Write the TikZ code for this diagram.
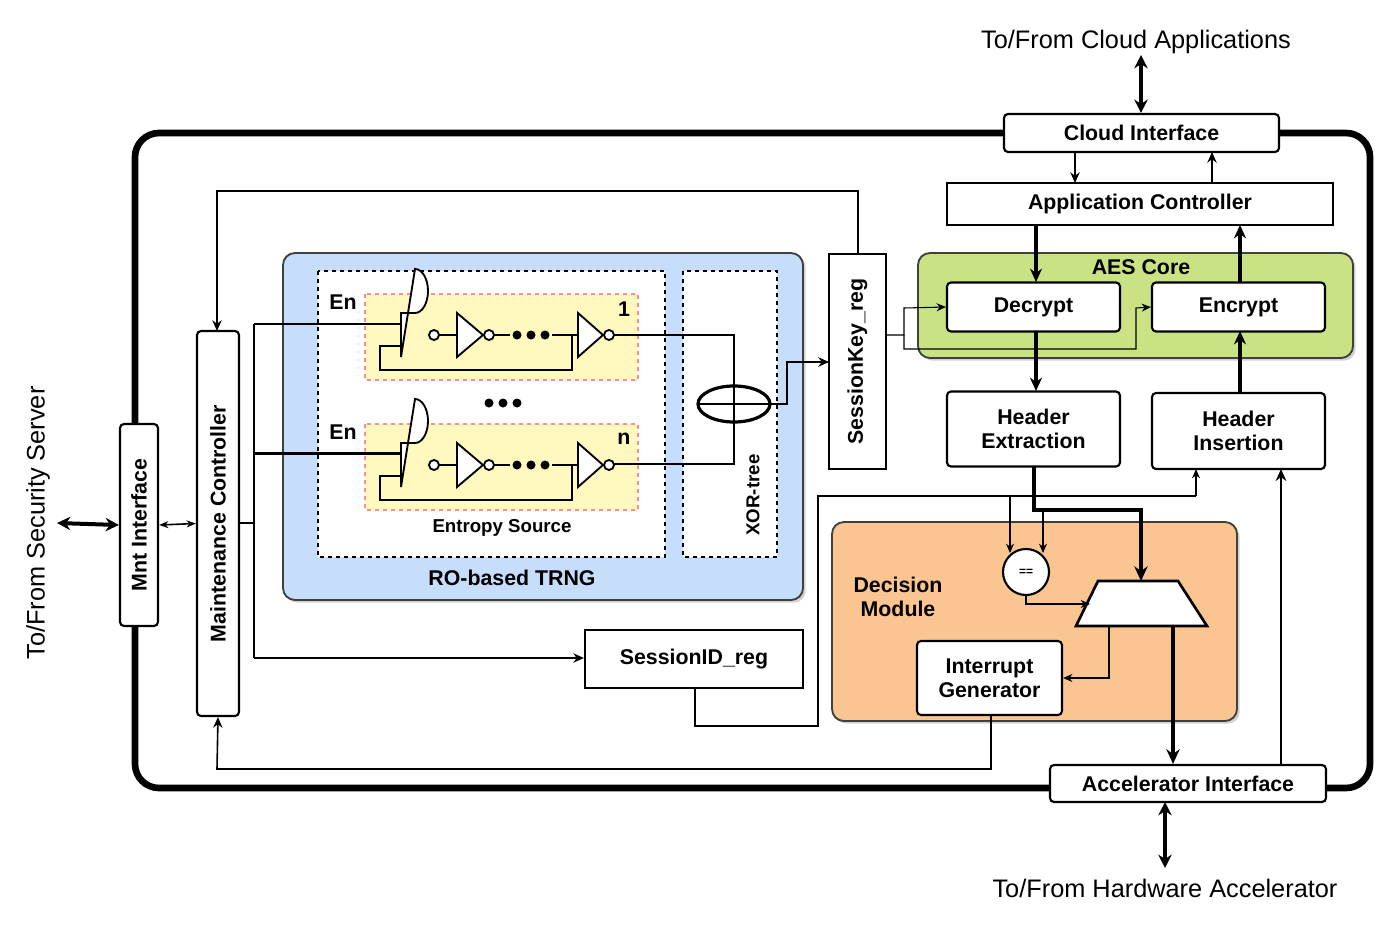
\documentclass[tikz,border=0pt]{standalone}
\usepackage{fontspec}
\setmainfont{Liberation Sans}
\usetikzlibrary{arrows.meta,shapes.geometric,shadows}
\begin{document}
\begin{tikzpicture}[x=0.75pt,y=-0.75pt,
  box/.style={draw,line width=1.6pt,fill=white,rounded corners=3pt,font=\bfseries\fontsize{16}{18}\selectfont,align=center,inner sep=0pt},
  grp/.style={draw=black!75,line width=1.4pt,rounded corners=9pt,drop shadow={shadow xshift=2pt,shadow yshift=-2pt,fill=black!35}},
  lbl/.style={font=\bfseries\fontsize{16}{18}\selectfont,align=center},
  thin/.style={line width=0.8pt,-{Stealth[length=7pt,width=6pt]}},
  thk/.style={line width=2.4pt,-{Stealth[length=10pt,width=9pt]}},
  dbl/.style={line width=3pt,{Stealth[length=10pt,width=10pt]}-{Stealth[length=10pt,width=10pt]}},
  osc/.style={draw=red!45,dashed,line width=1.2pt,fill=orange!22!yellow!25},
  w/.style={line width=1.4pt}]
\useasboundingbox (0,0) rectangle (1393,939);
% outer
\draw[line width=5pt,rounded corners=18pt] (135,133) rectangle (1370,788);
% groups
\path[grp,fill={rgb,255:red,198;green,222;blue,251}] (283,253) rectangle (803,600);
\path[grp,fill={rgb,255:red,201;green,227;blue,132}] (918,253) rectangle (1353,358);
\path[grp,fill={rgb,255:red,250;green,197;blue,145}] (832,522) rectangle (1237,721);
\node[lbl] (trngl) at (512,578) {RO-based TRNG};
\node[lbl] (aesl) at (1141,267) {AES Core};
\node[lbl,align=center] (decl) at (898,597) {Decision\\Module};
% entropy source
\draw[dashed,line width=1.4pt,fill=white] (318,271) rectangle (665,557);
\draw[dashed,line width=1.4pt,fill=white] (683,271) rectangle (777,557);
\node[font=\bfseries\fontsize{14}{16}\selectfont] (esl) at (502,528) {Entropy Source};
\node[font=\bfseries\fontsize{14}{16}\selectfont,rotate=90] (xl) at (753,495) {XOR-tree};
\foreach \y/\n/\k in {0/1/a,130/n/b}{
  \begin{scope}[yshift=-\y*0.75pt]
  \draw[osc] (365,294) rectangle (638,380);
  \node[lbl] at (343,302) {En};
  \node[lbl] at (624,309) {\n};
  \draw[w,fill=white] (401,313) -- (415,313) arc(90:-90:13 and 22) -- (401,357) -- cycle;
  \draw[w,fill=white] (434,335) circle (5);
  \draw[w] (439,335) -- (457,335);
  \draw[w,fill=white] (457,313) -- (457,357) -- (483,335) -- cycle;
  \draw[w,fill=white] (489,335) circle (5);
  \foreach \d in {517,531,545} \fill (\d,335) circle (4.5);
  \draw[w] (494,335) -- (510,335) (552,335) -- (578,335);
  \draw[w,fill=white] (578,313) -- (578,357) -- (603,335) -- cycle;
  \draw[w,fill=white] (609,335) circle (5);
  \draw[w] (572,335) -- (572,370) -- (380,370) -- (380,346) -- (401,346);
  \draw[w] (254,324) -- (401,324);
  \end{scope}}
\fill (489,403) circle (4.5) (503,403) circle (4.5) (517,403) circle (4.5);
% XOR
\draw[w] (614,335) -- (734,335) -- (734,464) -- (614,464);
\node[draw,ellipse,line width=2.4pt,minimum width=72pt*0.75,minimum height=36pt*0.75,inner sep=0pt] (xor) at (734,404) {};
\draw[w] (698,404) -- (770,404);
% registers and controllers
\node[box,rounded corners=0pt,minimum width=57pt*0.75,minimum height=215pt*0.75] (sk) at (857.5,361.5) {};
\node[lbl,rotate=90] at (sk) {SessionKey\_reg};
\node[box,rounded corners=3pt,minimum width=42pt*0.75,minimum height=385pt*0.75] (mc) at (218,523.5) {};
\node[lbl,rotate=90] at (mc) {Maintenance Controller};
\node[box,rounded corners=3pt,minimum width=38pt*0.75,minimum height=202pt*0.75] (mnt) at (139,525) {};
\node[lbl,rotate=90] at (mnt) {Mnt Interface};
\node[box,rounded corners=0pt,minimum width=218pt*0.75,minimum height=58pt*0.75] (sid) at (694,659) {SessionID\_reg};
\node[box,minimum width=275pt*0.75,minimum height=38pt*0.75] (cloud) at (1141.5,133) {Cloud Interface};
\node[box,rounded corners=0pt,minimum width=386pt*0.75,minimum height=42pt*0.75] (app) at (1140,204) {Application Controller};
\node[box,minimum width=173pt*0.75,minimum height=49pt*0.75] (dec) at (1033.5,307) {Decrypt};
\node[box,minimum width=173pt*0.75,minimum height=49pt*0.75] (enc) at (1238.5,307) {Encrypt};
\node[box,minimum width=173pt*0.75,minimum height=75pt*0.75] (he) at (1033.5,429) {Header\\Extraction};
\node[box,minimum width=173pt*0.75,minimum height=76pt*0.75] (hi) at (1238.5,431) {Header\\Insertion};
\node[box,minimum width=145pt*0.75,minimum height=74pt*0.75] (ig) at (989.5,678) {Interrupt\\Generator};
\node[box,minimum width=276pt*0.75,minimum height=37pt*0.75] (acc) at (1188,783.5) {Accelerator Interface};
\node[draw,circle,line width=1.6pt,fill=white,minimum size=46pt*0.75,inner sep=0pt,font=\bfseries\fontsize{9}{9}\selectfont] (eq) at (1026,572) {==};
\draw[line width=2pt,fill=white] (1098,581) -- (1178,581) -- (1207,626) -- (1076,626) -- cycle;
\coordinate (mux) at (1141,581);
% external labels
\node[font=\fontsize{19}{21}\selectfont] (tc) at (1136,42) {To/From Cloud Applications};
\node[font=\fontsize{19}{21}\selectfont] (th) at (1165,888) {To/From Hardware Accelerator};
\node[font=\fontsize{19}{21}\selectfont,rotate=90] (ts) at (38,523) {To/From Security Server};
\draw[dbl] (1141,55) -- (cloud.north -| 1141,55);
\draw[dbl] (1165,802) -- (1165,868);
\draw[dbl] (57,523) -- (mnt.west);
\draw[line width=1.2pt,{Stealth[length=7pt]}-{Stealth[length=7pt]}] (mnt.east) -- (mc.west);
% AES flows
\draw[line width=2pt,-{Stealth[length=8pt,width=7pt]}] (1075,152) -- (1075,183);
\draw[line width=2pt,-{Stealth[length=8pt,width=7pt]}] (1212,183) -- (1212,152);
\draw[thk] (1036,225) -- (1036,282);
\draw[thk] (1240,282) -- (1240,225);
\draw[thk] (1036,331) -- (1036,391);
\draw[thk] (1240,393) -- (1240,331);
\draw[thin] (886,335) -- (904,335) -- (904,308) -- (dec.west);
\draw[thin] (904,335) -- (904,349) -- (1136,349) -- (1136,308) -- (enc.west);
% TRNG -> SK
\draw[w,-{Stealth[length=8pt,width=7pt]}] (770,404) -- (787,404) -- (787,362) -- (829,362);
% top feedback
\draw[line width=1.2pt,-{Stealth[length=8pt,width=7pt]}] (858,254) -- (858,191) -- (217,191) -- (217,331);
% MC out
\draw[w] (mc.east |- 0,523) -- (254,523);
\draw[w] (254,324) -- (254,658);
\draw[w] (254,453) -- (401,453);
\draw[w,-{Stealth[length=8pt,width=7pt]}] (254,658) -- (sid.west |- 0,658);
% session id path
\draw[line width=0.8pt] (695,688) -- (695,726) -- (818,726) -- (818,496) -- (1196,496);
\draw[thin] (1196,496) -- (1196,469);
\draw[thin] (1010,496) -- (1010,553);
\draw[line width=3pt,-{Stealth[length=11pt,width=10pt]}] (1034,466) -- (1034,510) -- (1141,510) -- (mux);
\draw[thin] (1043,510) -- (1043,553);
\draw[thin] (1026,595) -- (1026,604) -- (1090,604);
\draw[thin] (1109,626) -- (1109,678) -- (ig.east);
\draw[line width=1.2pt,-{Stealth[length=8pt,width=7pt]}] (991,715) -- (991,769) -- (217,769) -- (mc.south);
\draw[line width=3pt,-{Stealth[length=11pt,width=10pt]}] (1173,626) -- (acc.north -| 1173,0);
\draw[line width=2pt,-{Stealth[length=9pt,width=8pt]}] (1281,765) -- (1281,469);
\end{tikzpicture}
\end{document}
